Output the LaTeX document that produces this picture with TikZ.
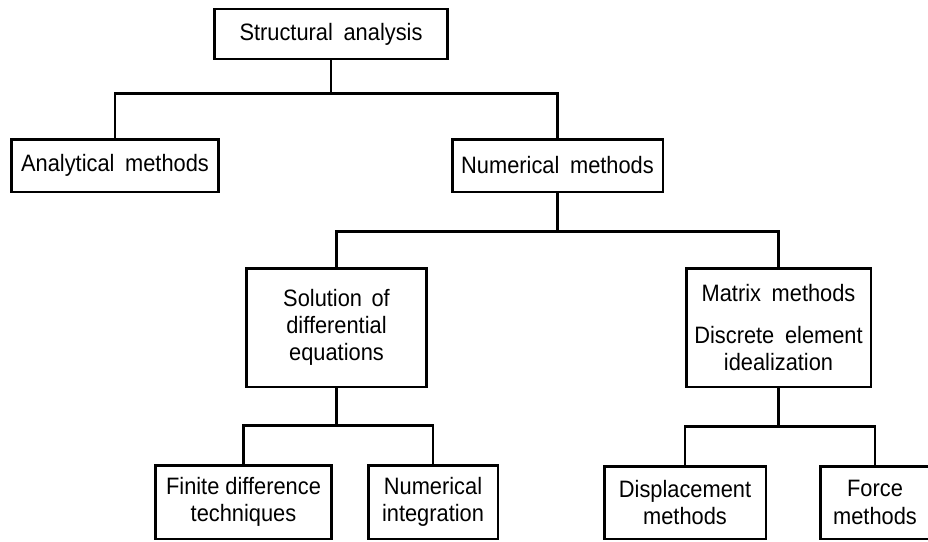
\documentclass[tikz,border=0pt]{standalone}
\usepackage{fontspec}
\setmainfont{Liberation Sans}[FakeStretch=0.92]
\usetikzlibrary{positioning}

\begin{document}
\begin{tikzpicture}[x=0.02cm,y=-0.02cm,
    box/.style={draw,line width=1.7pt,align=center,inner sep=0pt,
      font=\fontsize{13.5}{15.5}\selectfont},
    link/.style={line width=1.5pt}]
  \useasboundingbox (0,0) rectangle (928,541);

  % Top level
  \node[box,minimum width=4.68cm,minimum height=1cm] (sa) at (331,34) {Structural\hspace{0.45em}analysis};

  % Analytical and numerical
  \node[box,minimum width=4.16cm,minimum height=1.06cm] (am) at (115,165.5) {Analytical\hspace{0.45em}methods};
  \node[box,minimum width=4.22cm,minimum height=1.06cm] (nm) at (557.5,165.5) {Numerical\hspace{0.45em}methods};

  % Numerical branches
  \node[box,minimum width=3.62cm,minimum height=2.38cm] (sd) at (336.5,327.5)
    {Solution\hspace{0.4em}of\\differential\\equations};
  \node[box,minimum width=3.7cm,minimum height=2.38cm] (mm) at (778.5,327.5)
    {Matrix\hspace{0.45em}methods\\[8pt]Discrete\hspace{0.45em}element\\idealization};

  % Bottom level
  \node[box,minimum width=3.54cm,minimum height=1.48cm] (fd) at (243.5,502) {Finite difference\\techniques};
  \node[box,minimum width=2.6cm,minimum height=1.48cm] (ni) at (433,502) {Numerical\\integration};
  \node[box,minimum width=3.24cm,minimum height=1.46cm] (dm) at (685,502.5) {Displacement\\methods};
  \node[box,minimum width=2.2cm,minimum height=1.46cm] (fm) at (875,502.5) {Force\\methods};

  % Connectors
  \draw[link] (sa.south) -- ++(0,33) -| (am.north);
  \draw[link] (sa.south) -- ++(0,33) -| (nm.north);
  \draw[link] (nm.south) -- ++(0,38) -| (sd.north);
  \draw[link] (nm.south) -- ++(0,38) -| (mm.north);
  \draw[link] (sd.south) -- ++(0,37) -| (fd.north);
  \draw[link] (sd.south) -- ++(0,37) -| (ni.north);
  \draw[link] (mm.south) -- ++(0,38) -| (dm.north);
  \draw[link] (mm.south) -- ++(0,38) -| (fm.north);
\end{tikzpicture}
\end{document}
